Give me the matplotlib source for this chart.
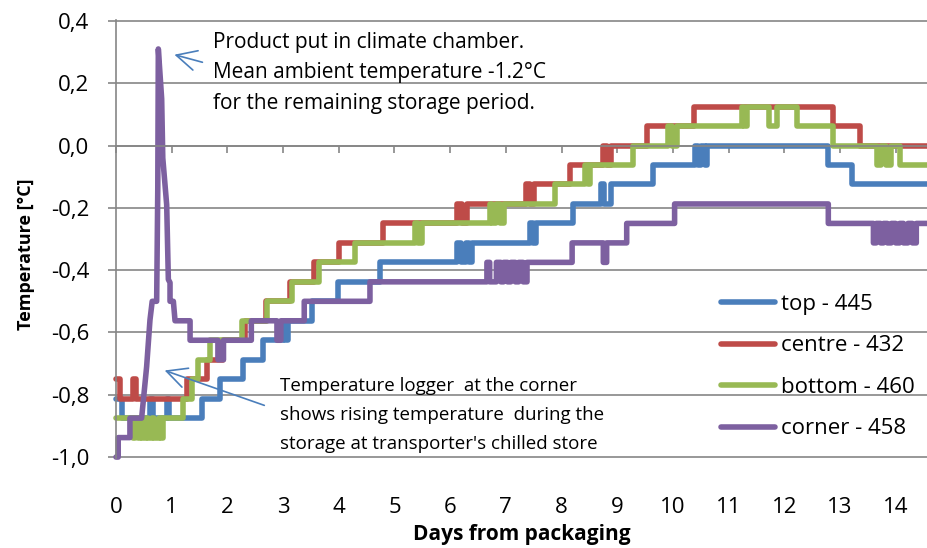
import numpy as np
import matplotlib
matplotlib.use("Agg")
import matplotlib.pyplot as plt

plt.rcParams['font.family'] = ['Open Sans', 'DejaVu Sans']

# %% data (days from packaging, temperature in degC)
end_day = 14.6

top_days = [0.00, 0.10, 0.61, 0.66, 0.91, 0.96, 1.54, 1.87, 2.28, 2.64, 3.00, 3.04,
            3.08, 3.52, 3.99, 4.74, 6.12, 6.20, 6.28, 6.34, 6.40, 7.44, 7.48, 7.54,
            8.21, 8.71, 8.77, 8.89, 9.65, 10.40, 10.45, 10.51, 10.57, 10.61, 12.79, 13.21]
top_temps = [-0.8125, -0.875, -0.8125, -0.875, -0.8125, -0.875, -0.8125, -0.75, -0.6875,
             -0.625, -0.5625, -0.625, -0.5625, -0.5, -0.4375, -0.375, -0.3125, -0.375,
             -0.3125, -0.375, -0.3125, -0.25, -0.3125, -0.25, -0.1875, -0.125, -0.1875,
             -0.125, -0.0625, 0.0, -0.0625, 0.0, -0.0625, 0.0, -0.0625, -0.125]

centre_days = [0.00, 0.08, 0.31, 0.36, 1.28, 1.63, 1.93, 2.32, 2.69, 3.12, 3.55, 4.00,
               4.79, 6.12, 6.22, 6.30, 7.36, 7.43, 7.50, 8.15, 8.75, 8.81, 8.89, 9.53,
               10.37, 12.88, 13.36]
centre_temps = [-0.75, -0.8125, -0.75, -0.8125, -0.75, -0.6875, -0.625, -0.5625, -0.5,
                -0.4375, -0.375, -0.3125, -0.25, -0.1875, -0.25, -0.1875, -0.125, -0.1875,
                -0.125, -0.0625, 0.0, -0.0625, 0.0, 0.0625, 0.125, 0.0625, 0.0]

bottom_days = [0.00, 0.31, 0.35, 0.39, 0.43, 0.47, 0.54, 0.57, 0.65, 0.69, 0.77, 0.81,
               0.85, 1.20, 1.36, 1.48, 1.69, 2.27, 2.72, 3.16, 3.65, 4.30, 5.37, 5.43,
               5.49, 6.71, 6.76, 6.83, 6.89, 6.96, 7.88, 8.42, 8.47, 8.51, 9.28, 9.91,
               9.99, 10.07, 11.24, 11.28, 11.33, 11.73, 11.86, 12.22, 12.88, 13.67, 13.74,
               13.82, 13.92, 14.07]
bottom_temps = [-0.875, -0.9375, -0.875, -0.9375, -0.875, -0.9375, -0.875, -0.9375,
                -0.875, -0.9375, -0.875, -0.9375, -0.875, -0.8125, -0.75, -0.6875, -0.625,
                -0.5625, -0.5, -0.4375, -0.375, -0.3125, -0.25, -0.3125, -0.25, -0.1875,
                -0.25, -0.1875, -0.25, -0.1875, -0.125, -0.0625, -0.125, -0.0625, 0.0,
                0.0625, 0.0, 0.0625, 0.125, 0.0625, 0.125, 0.0625, 0.125, 0.0625, 0.0,
                -0.0625, 0.0, -0.0625, 0.0, -0.0625]

# corner logger: steps, then the peak when moved to the climate chamber, then steps again
corner_start_days = [0.00, 0.04, 0.25]
corner_start_temps = [-1.0, -0.9375, -0.875]
corner_spike_days = [0.46, 0.55, 0.61, 0.65, 0.73, 0.75, 0.76, 0.82, 0.84, 0.91, 0.94,
                     0.97, 0.97, 1.03, 1.06]
corner_spike_temps = [-0.875, -0.71, -0.56, -0.5, -0.5, -0.14, 0.31, 0.15, -0.04, -0.19,
                      -0.43, -0.44, -0.5, -0.5, -0.5625]
corner_days = [1.06, 1.33, 1.83, 1.93, 2.43, 2.89, 2.96, 3.38, 4.56, 6.66, 6.71, 6.83,
               6.91, 6.96, 7.03, 7.09, 7.17, 7.23, 7.31, 7.38, 8.19, 8.75, 8.81, 9.17,
               10.03, 12.79, 13.60, 13.65, 13.73, 13.78, 13.85, 13.92, 14.00, 14.07,
               14.14, 14.22, 14.30, 14.37]
corner_temps = [-0.5625, -0.625, -0.6875, -0.625, -0.5625, -0.625, -0.5625, -0.5, -0.4375,
                -0.375, -0.4375, -0.375, -0.4375, -0.375, -0.4375, -0.375, -0.4375, -0.375,
                -0.4375, -0.375, -0.3125, -0.375, -0.3125, -0.25, -0.1875, -0.25, -0.3125,
                -0.25, -0.3125, -0.25, -0.3125, -0.25, -0.3125, -0.25, -0.3125, -0.25,
                -0.3125, -0.25]

series_labels = ['top - 445', 'centre - 432', 'bottom - 460', 'corner - 458']
series_colors = ['#4A7EBB', '#BE4B48', '#98B954', '#7D60A0']

x_ticks = list(range(15))
y_ticks = [-1.0, -0.8, -0.6, -0.4, -0.2, 0.0, 0.2, 0.4]
y_ticklabels = ['-1,0', '-0,8', '-0,6', '-0,4', '-0,2', '0,0', '0,2', '0,4']

note_chamber = ('Product put in climate chamber.\n'
                'Mean ambient temperature -1.2°C\n'
                'for the remaining storage period.')
note_corner = ('Temperature logger  at the corner\n'
               'shows rising temperature  during the\n'
               "storage at transporter's chilled store")


def step_path(days, temps, end):
    # logger values hold until the next reading
    x, y = [days[0]], [temps[0]]
    for d, t in zip(days[1:], temps[1:]):
        x += [d, d]
        y += [y[-1], t]
    x.append(end)
    y.append(y[-1])
    return x, y


# %% figure
grid_col = '#868686'
fig = plt.figure(figsize=(9.28, 5.48), dpi=100)
ax = fig.add_axes([116 / 928, 90 / 548, 812 / 928, 438 / 548])
ax.set_xlim(0, 14.58)
ax.set_ylim(-1.003, 0.403)

ax.set_yticks(y_ticks)
ax.set_yticklabels(y_ticklabels)
ax.yaxis.grid(True, color=grid_col, lw=1.2)
ax.set_axisbelow(True)
ax.tick_params(axis='y', direction='out', length=6, width=1.2, color=grid_col,
               pad=13, labelsize=16)

for s in ['top', 'right']:
    ax.spines[s].set_visible(False)
ax.spines['left'].set_color(grid_col)
ax.spines['left'].set_linewidth(1.2)
ax.spines['bottom'].set_position(('data', 0))
ax.spines['bottom'].set_color(grid_col)
ax.spines['bottom'].set_linewidth(1.2)
ax.set_xticks(x_ticks)
ax.tick_params(axis='x', direction='out', length=5, width=1.2, color=grid_col,
               labelbottom=False)

sec = ax.secondary_xaxis('bottom')
sec.set_xticks(x_ticks)
sec.set_xticklabels([str(t) for t in x_ticks])
sec.tick_params(length=0, pad=28, labelsize=16)
sec.spines['bottom'].set_visible(False)

# series
paths = [step_path(top_days, top_temps, end_day),
         step_path(centre_days, centre_temps, end_day),
         step_path(bottom_days, bottom_temps, end_day)]
cx0, cy0 = step_path(corner_start_days, corner_start_temps, corner_spike_days[0])
cx2, cy2 = step_path(corner_days, corner_temps, end_day)
paths.append((cx0 + corner_spike_days + cx2, cy0 + corner_spike_temps + cy2))

for (x, y), lab, col in zip(paths, series_labels, series_colors):
    ax.plot(x, y, color=col, lw=4, label=lab, solid_joinstyle='round',
            solid_capstyle='round', clip_on=False)

leg = ax.legend(loc='upper left', bbox_to_anchor=(0.72, 0.42), frameon=False,
                fontsize=16, handlelength=2.45, handletextpad=0.25, labelspacing=0.92)

# annotations
arrow_kw = dict(arrowstyle='->,head_length=0.8,head_width=0.4', color='#4A7EBB',
                lw=1.2, mutation_scale=18)
ax.text(1.74, 0.233, note_chamber, fontsize=15, va='center', ha='left', linespacing=1.6)
ax.annotate('', xy=(1.0, 0.294), xytext=(1.60, 0.265), arrowprops=arrow_kw)
ax.text(2.94, -0.865, note_corner, fontsize=13.5, va='center', ha='left', linespacing=1.78)
ax.annotate('', xy=(0.826, -0.719), xytext=(2.71, -0.837), arrowprops=arrow_kw)

ax.set_ylabel('Temperature [°C]', fontsize=13, fontweight='bold')
ax.yaxis.set_label_coords(-0.1, 0.465)
ax.set_xlabel('Days from packaging', fontsize=15, fontweight='bold')
ax.xaxis.set_label_coords(0.5, -0.15)

fig.savefig('out.png', dpi=100)
